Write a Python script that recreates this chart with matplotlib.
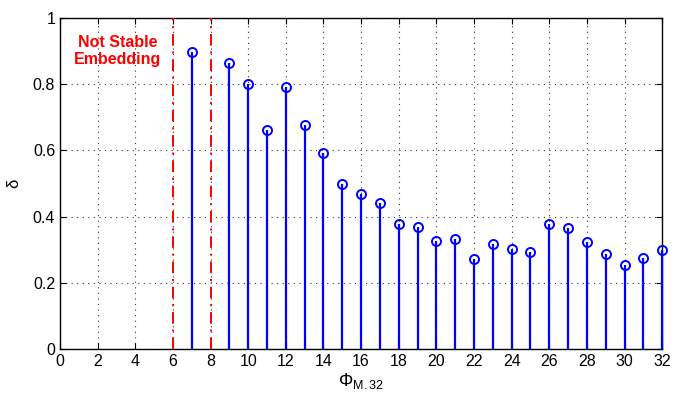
import matplotlib
matplotlib.use("Agg")
import matplotlib.pyplot as plt
import numpy as np

x_vals = [7, 9, 10, 11, 12, 13, 14, 15, 16, 17, 18, 19, 20, 21, 22, 23, 24, 25, 26, 27, 28, 29, 30, 31, 32]
delta = [0.896, 0.865, 0.800, 0.661, 0.792, 0.676, 0.592, 0.499, 0.469, 0.440, 0.377, 0.369,
         0.327, 0.334, 0.272, 0.318, 0.302, 0.292, 0.377, 0.365, 0.323, 0.288, 0.253, 0.276, 0.299]
unstable_bounds = [6, 8]
x_ticks = list(range(0, 33, 2))
y_ticks = [0, 0.2, 0.4, 0.6, 0.8, 1]
y_tick_labels = ["0", "0.2", "0.4", "0.6", "0.8", "1"]

plt.rcParams['font.family'] = ['Liberation Sans', 'DejaVu Sans']
plt.rcParams['mathtext.fontset'] = 'custom'
plt.rcParams['mathtext.rm'] = 'Liberation Sans'
plt.rcParams['mathtext.it'] = 'Liberation Sans'

fig = plt.figure(figsize=(6.75, 3.96), dpi=100)
ax = fig.add_axes([0.0889, 0.118, 0.981 - 0.0889, 0.955 - 0.118])

ax.vlines(x_vals, 0, delta, color='#0000ff', linewidth=1.6, zorder=3, clip_on=False)
ax.plot(x_vals, delta, linestyle='none', marker='o', markersize=6.5,
        markerfacecolor='none', markeredgecolor='#0000ff', markeredgewidth=1.4, zorder=4,
        clip_on=False)

for b in unstable_bounds:
    ax.axvline(b, color='#ff0000', linestyle=(0, (6, 3, 1, 3)), linewidth=1.4, zorder=3)

ax.text(3.05, 0.9, "Not Stable\nEmbedding", color='#ff0000', fontweight='bold',
        fontsize=11.5, ha='center', va='center', linespacing=1.2)

ax.set_xlim(0, 32)
ax.set_ylim(0, 1)
ax.set_xticks(x_ticks)
ax.set_yticks(y_ticks)
ax.set_yticklabels(y_tick_labels)
ax.tick_params(direction='in', top=True, right=True, labelsize=11.5, length=4, width=0.8)
ax.grid(True, linestyle=(0, (1, 4)), color='#333333', linewidth=0.8)
ax.set_axisbelow(True)
for s in ax.spines.values():
    s.set_linewidth(1.0)

ax.set_ylabel(r"$\mathrm{\delta}$", fontsize=12, labelpad=8)
ax.set_xlabel(r"$\Phi_{\mathrm{M.32}}$", fontsize=13, labelpad=1)

fig.savefig("out.png", dpi=100)
